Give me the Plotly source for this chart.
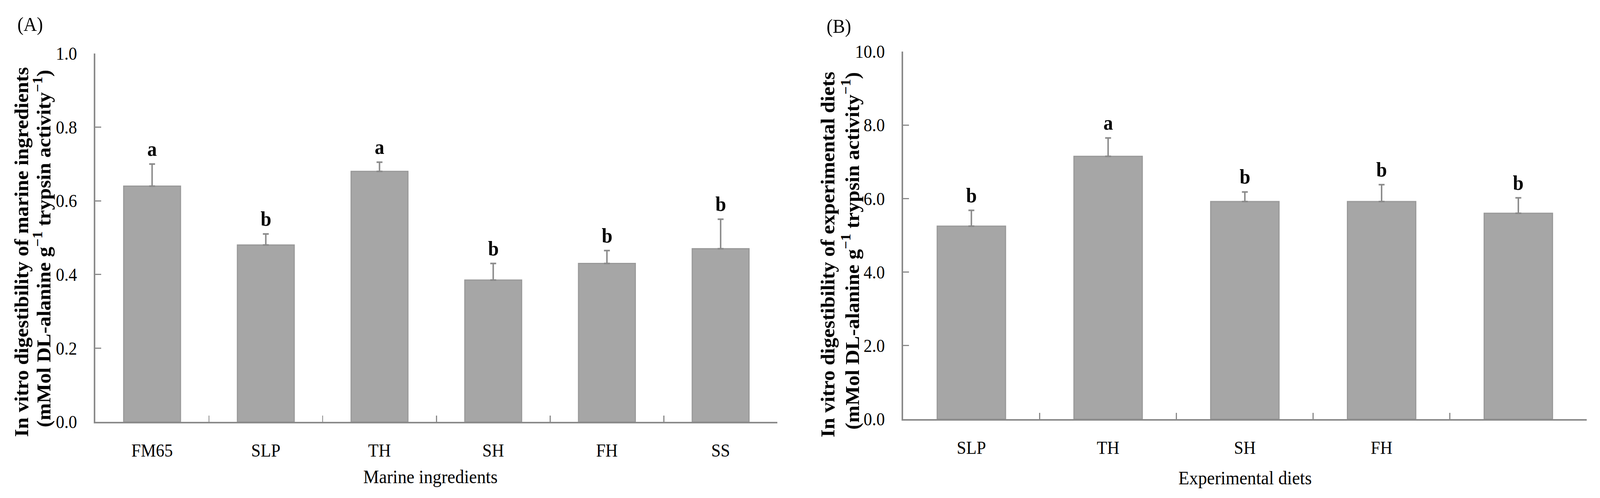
import plotly.graph_objects as go

# Panel A: marine ingredients
ingredients = ["FM65", "SLP", "TH", "SH", "FH", "SS"]
ingr_mean = [0.64, 0.48, 0.68, 0.385, 0.43, 0.47]
ingr_err = [0.06, 0.03, 0.025, 0.045, 0.035, 0.08]
ingr_letters = ["a", "b", "a", "b", "b", "b"]

# Panel B: experimental diets (last bar has no label in the figure)
diets = ["SLP", "TH", "SH", "FH", "D5"]
diet_labels = ["SLP", "TH", "SH", "FH", ""]
diet_mean = [5.25, 7.15, 5.92, 5.92, 5.6]
diet_err = [0.43, 0.5, 0.26, 0.46, 0.42]
diet_letters = ["b", "a", "b", "b", "b"]

W, H = 4334, 1275
MT, MB = 130, 190
PT, PB = MT, H - MB  # pixel rows bounding the plot area

FONT = "Liberation Serif"
BAR = "#a6a6a6"
EDGE = "#999999"
AXIS = "#8a8a8a"

fig = go.Figure()

fig.add_trace(go.Bar(
    x=ingredients, y=ingr_mean, xaxis="x", yaxis="y",
    marker=dict(color=BAR, line=dict(color=EDGE, width=3)),
    error_y=dict(type="data", symmetric=False, array=ingr_err,
                 arrayminus=[0] * len(ingr_err), color=AXIS, thickness=4, width=8),
    showlegend=False,
))
fig.add_trace(go.Bar(
    x=diets, y=diet_mean, xaxis="x2", yaxis="y2",
    marker=dict(color=BAR, line=dict(color=EDGE, width=3)),
    error_y=dict(type="data", symmetric=False, array=diet_err,
                 arrayminus=[0] * len(diet_err), color=AXIS, thickness=4, width=8),
    showlegend=False,
))

annotations = []
# significance letters above the error bars
for cat, m, e, t in zip(ingredients, ingr_mean, ingr_err, ingr_letters):
    annotations.append(dict(x=cat, y=m + e, xref="x", yref="y", text="<b>%s</b>" % t,
                            showarrow=False, yanchor="bottom", yshift=8,
                            font=dict(family=FONT, size=52, color="black")))
for cat, m, e, t in zip(diets, diet_mean, diet_err, diet_letters):
    annotations.append(dict(x=cat, y=m + e, xref="x2", yref="y2", text="<b>%s</b>" % t,
                            showarrow=False, yanchor="bottom", yshift=8,
                            font=dict(family=FONT, size=52, color="black")))


def px_x(v):
    return v / W


def px_y(v):
    # paper y is measured inside the plot area
    return (PB - v) / (PB - PT)


def text_at(x, y, text, size, angle=0, anchor="center"):
    return dict(x=px_x(x), y=px_y(y), xref="paper", yref="paper", text=text,
                showarrow=False, textangle=angle, xanchor=anchor, yanchor="middle",
                font=dict(family=FONT, size=size, color="black"))


unit = "<b>(mMol DL-alanine g<sup>−1</sup> trypsin activity<sup>−1</sup>)</b>"
annotations += [
    text_at(45, 62, "(A)", 50, anchor="left"),
    text_at(2237, 67, "(B)", 50, anchor="left"),
    text_at(58, 645, "<b>In vitro digestibility of marine ingredients</b>", 53, angle=-90),
    text_at(114, 636, unit, 53, angle=-90),
    text_at(2242, 652, "<b>In vitro digestibility of experimental diets</b>", 53, angle=-90),
    text_at(2304, 642, unit, 53, angle=-90),
    text_at(1166, 1220, "Marine ingredients", 48),
    text_at(3372, 1223, "Experimental diets", 48),
]

xcommon = dict(type="category", showline=True, linecolor=AXIS, linewidth=4,
               ticks="inside", tickson="boundaries", ticklen=16, tickwidth=3, tickcolor=AXIS,
               showgrid=False, zeroline=False, ticklabelstandoff=30,
               tickfont=dict(family=FONT, size=46, color="black"))
ycommon = dict(showline=True, linecolor=AXIS, linewidth=4, ticks="inside", ticklen=16,
               tickwidth=3, tickcolor=AXIS, showgrid=False, zeroline=False,
               ticklabelstandoff=36, tickformat=".1f",
               tickfont=dict(family=FONT, size=46, color="black"))

fig.update_layout(
    width=W, height=H,
    margin=dict(l=0, r=0, t=MT, b=MB),
    plot_bgcolor="white", paper_bgcolor="white",
    bargap=0.5,
    xaxis=dict(domain=[px_x(258), px_x(2106)], anchor="y", **xcommon),
    yaxis=dict(domain=[px_y(1080), px_y(137)], anchor="x", range=[0, 1.0], dtick=0.2,
               **ycommon),
    xaxis2=dict(domain=[px_x(2446), px_x(4298)], anchor="y2",
                tickmode="array", tickvals=diets, ticktext=diet_labels, **xcommon),
    yaxis2=dict(domain=[px_y(1073), px_y(132)], anchor="x2", range=[0, 10], dtick=2,
                **ycommon),
    annotations=annotations,
)

# the figure is laid out at 4334x1275; fit it exactly into whatever
# viewport the page gets so nothing is cropped
fit = """
document.body.style.margin = '0';
document.body.style.overflow = 'hidden';
var gd = document.getElementById('{plot_id}');
var sx = window.innerWidth / %d, sy = window.innerHeight / %d;
gd.style.transformOrigin = '0 0';
gd.style.transform = 'scale(' + sx + ',' + sy + ')';
""" % (W, H)

fig.write_html("out.html", post_script=fit, config={"displayModeBar": False})
